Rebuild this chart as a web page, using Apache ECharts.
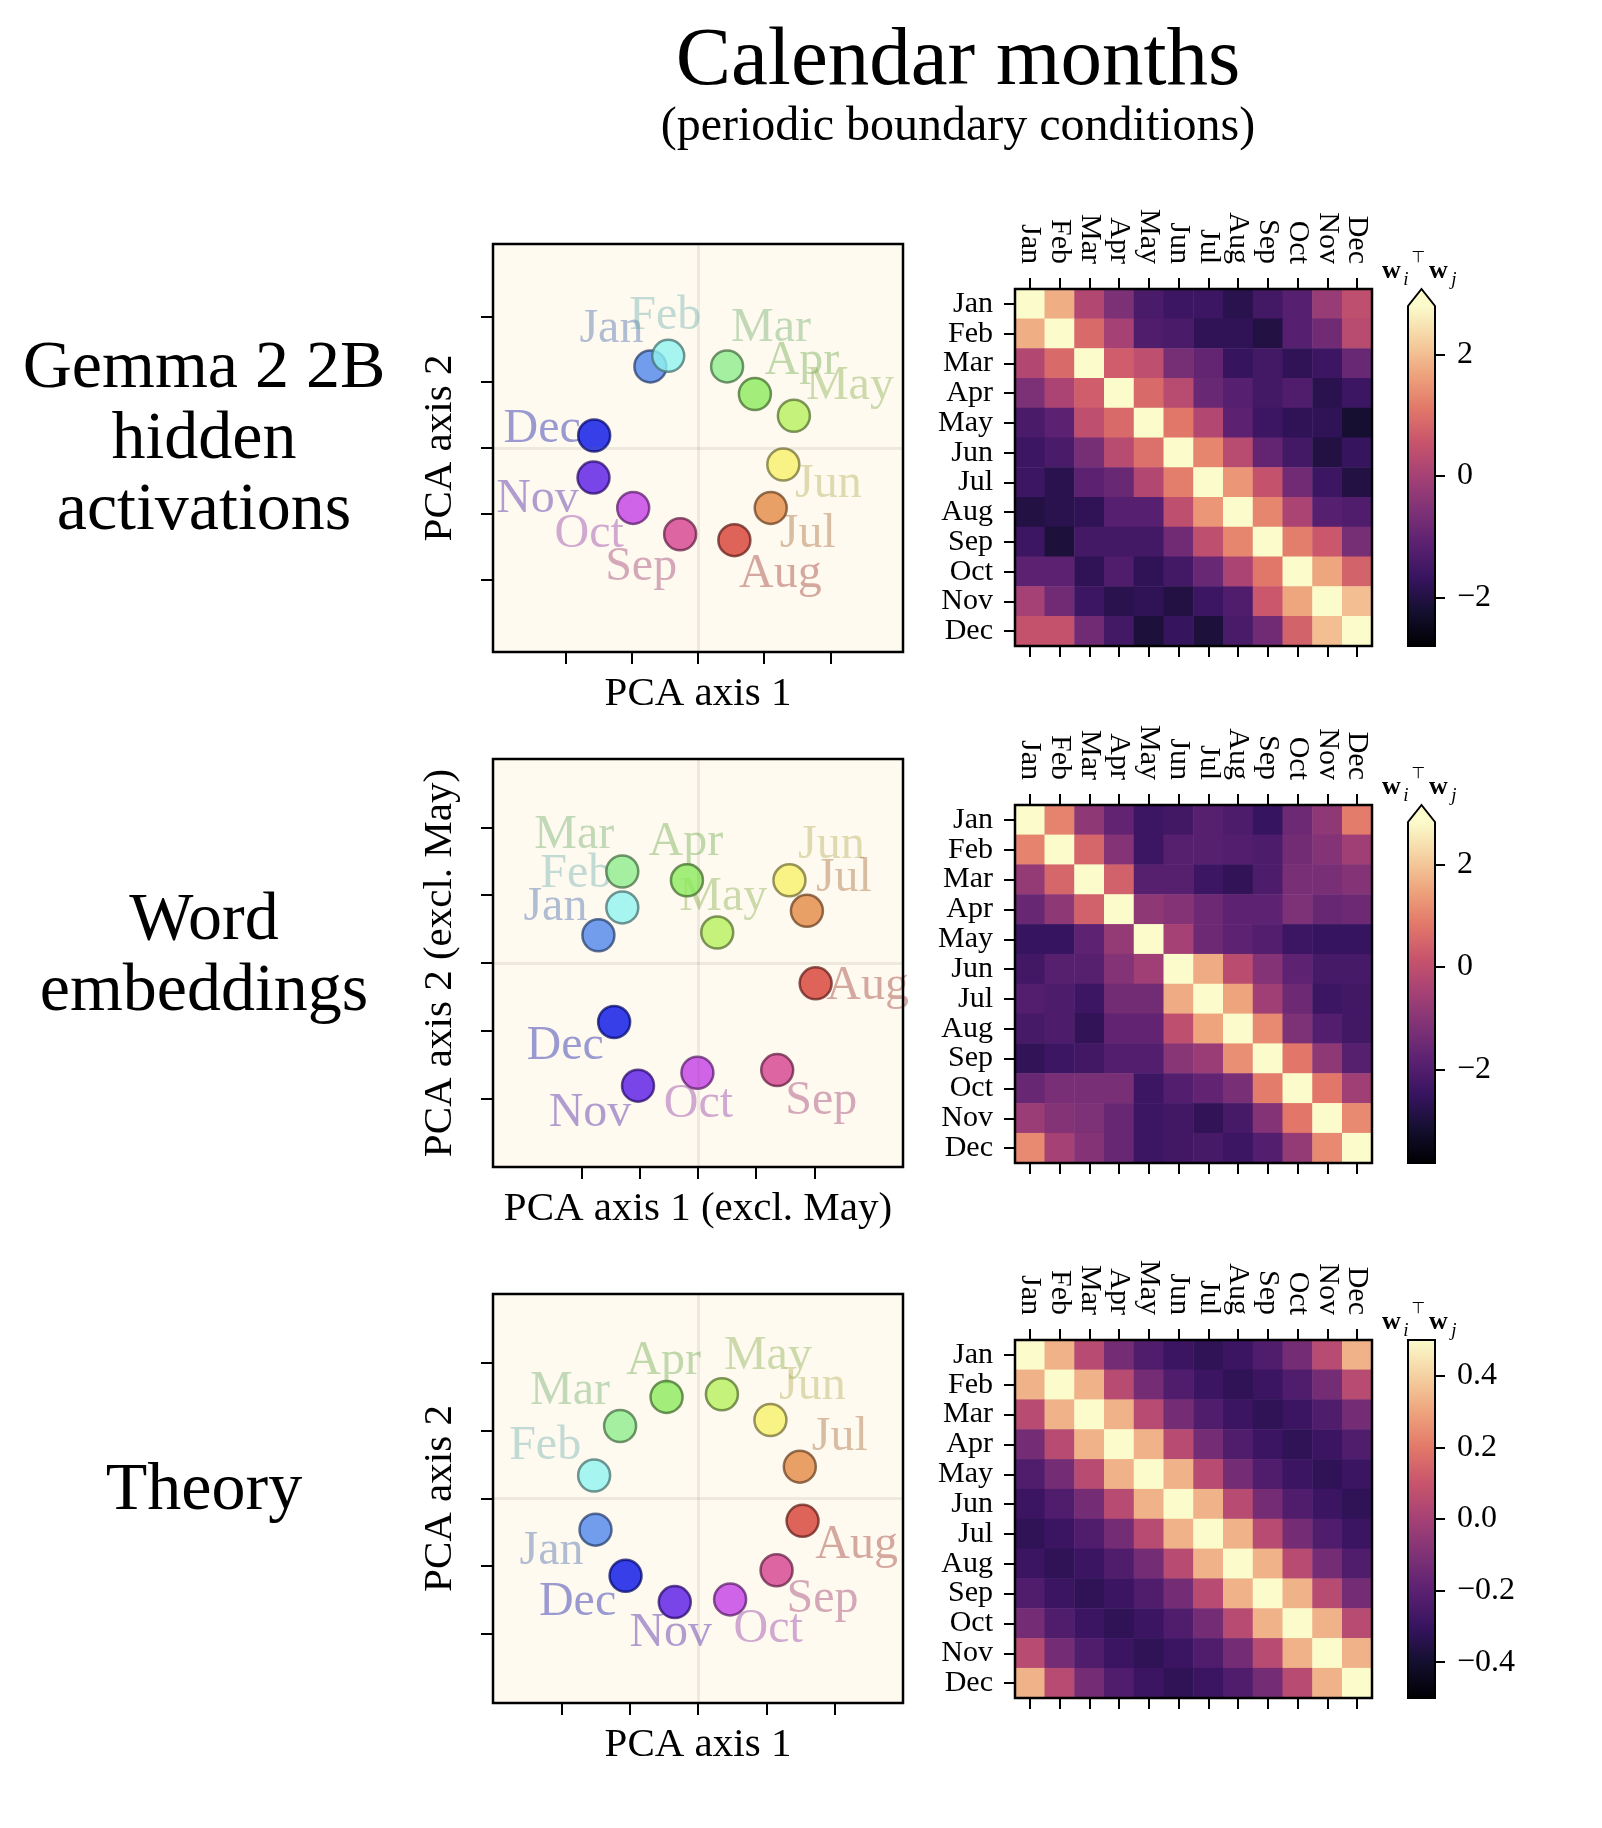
<!DOCTYPE html>
<html>
<head>
<meta charset="utf-8">
<script src="https://cdn.jsdelivr.net/npm/echarts@6/dist/echarts.min.js"></script>
<style>
  html, body { margin: 0; padding: 0; background: #fff; }
  #chart { width: 1602px; height: 1828px; }
</style>
</head>
<body>
<div id="chart"></div>
<script>
// months (shared categories)
const months = ['Jan', 'Feb', 'Mar', 'Apr', 'May', 'Jun', 'Jul', 'Aug', 'Sep', 'Oct', 'Nov', 'Dec']

// PCA coordinates (tick = 1 unit)
const gemmaPC1 = [-0.72, -0.45, 0.44, 0.86, 1.45, 1.29, 1.10, 0.55, -0.27, -0.98, -1.58, -1.57]
const gemmaPC2 = [1.24, 1.40, 1.24, 0.82, 0.49, -0.25, -0.91, -1.40, -1.31, -0.91, -0.45, 0.19]
const wordPC1 = [-1.71, -1.30, -1.30, -0.19, 0.33, 1.57, 1.87, 2.02, 1.36, -0.01, -1.03, -1.44]
const wordPC2 = [0.41, 0.82, 1.35, 1.22, 0.45, 1.22, 0.77, -0.30, -1.58, -1.62, -1.81, -0.87]
const theoryPC1 = [-1.50, -1.52, -1.14, -0.46, 0.35, 1.06, 1.49, 1.53, 1.15, 0.47, -0.34, -1.06]
const theoryPC2 = [-0.46, 0.34, 1.07, 1.50, 1.54, 1.16, 0.47, -0.33, -1.06, -1.49, -1.53, -1.14]
const pcaTicks = [-2, -1, 0, 1, 2]

// w_i^T w_j matrices (rows = Jan..Dec)
const gemmaSim = [
  [3.0, 1.8, 0.2, -0.6, -1.4, -1.6, -1.6, -1.9, -1.5, -1.2, -0.2, 0.4],
  [1.8, 3.0, 0.9, 0.0, -1.3, -1.4, -1.8, -1.8, -2.0, -1.2, -0.8, 0.3],
  [0.2, 0.9, 3.0, 0.7, 0.4, -0.7, -1.0, -1.7, -1.5, -1.8, -1.6, -0.9],
  [-0.6, 0.1, 0.7, 3.0, 0.9, 0.3, -0.9, -1.2, -1.5, -1.3, -1.9, -1.6],
  [-1.4, -1.1, 0.4, 0.9, 3.0, 1.1, 0.2, -1.1, -1.6, -1.8, -1.8, -2.2],
  [-1.6, -1.4, -0.7, 0.3, 1.0, 3.0, 1.3, 0.3, -1.0, -1.5, -2.0, -1.7],
  [-1.6, -1.9, -1.1, -0.9, 0.2, 1.2, 3.0, 1.5, 0.5, -0.8, -1.6, -2.0],
  [-2.0, -1.9, -1.8, -1.2, -1.2, 0.4, 1.5, 3.0, 1.3, 0.1, -1.2, -1.3],
  [-1.6, -2.1, -1.5, -1.5, -1.5, -0.8, 0.4, 1.3, 3.0, 1.2, 0.6, -0.7],
  [-1.1, -1.1, -1.8, -1.3, -1.8, -1.5, -0.9, 0.1, 1.1, 3.0, 1.7, 0.8],
  [0.0, -0.8, -1.6, -1.9, -1.8, -2.0, -1.6, -1.3, 0.6, 1.7, 3.0, 2.0],
  [0.5, 0.5, -0.8, -1.5, -2.1, -1.7, -2.1, -1.4, -0.8, 0.8, 2.0, 3.0]
]
const wordSim = [
  [3.0, 1.0, -0.9, -1.7, -2.4, -2.3, -1.9, -2.1, -2.5, -1.5, -0.9, 0.9],
  [1.0, 3.0, 0.5, -1.1, -2.4, -1.9, -1.9, -2.0, -2.1, -1.4, -1.1, -0.6],
  [-0.8, 0.5, 3.0, 0.4, -1.9, -1.9, -2.4, -2.6, -2.1, -1.3, -1.3, -1.1],
  [-1.6, -0.9, 0.4, 3.0, -0.9, -1.1, -1.5, -1.8, -1.8, -1.2, -1.6, -1.5],
  [-2.5, -2.5, -1.8, -0.8, 3.0, -0.5, -1.5, -1.8, -2.0, -2.4, -2.5, -2.5],
  [-2.3, -1.9, -1.9, -1.1, -0.6, 3.0, 1.6, -0.1, -1.1, -1.8, -2.2, -2.2],
  [-2.0, -2.1, -2.4, -1.4, -1.4, 1.6, 3.0, 1.5, -0.6, -1.5, -2.4, -2.3],
  [-2.2, -2.1, -2.6, -1.7, -1.7, 0.0, 1.5, 3.0, 1.1, -1.2, -2.0, -2.3],
  [-2.6, -2.4, -2.3, -2.0, -2.0, -1.0, -0.7, 1.2, 3.0, 0.8, -0.9, -1.9],
  [-1.6, -1.3, -1.3, -1.3, -2.4, -2.0, -1.7, -1.3, 0.9, 3.0, 0.8, -0.6],
  [-0.7, -1.1, -1.2, -1.6, -2.4, -2.3, -2.6, -2.2, -1.1, 0.8, 3.0, 1.1],
  [1.1, -0.5, -1.1, -1.6, -2.4, -2.3, -2.2, -2.4, -2.0, -0.8, 1.1, 3.0]
]
const theorySim = [
  [0.5, 0.33, 0.05, -0.13, -0.23, -0.29, -0.32, -0.29, -0.23, -0.13, 0.05, 0.33],
  [0.33, 0.5, 0.33, 0.05, -0.13, -0.23, -0.29, -0.32, -0.29, -0.23, -0.13, 0.05],
  [0.05, 0.33, 0.5, 0.33, 0.05, -0.13, -0.23, -0.29, -0.32, -0.29, -0.23, -0.13],
  [-0.13, 0.05, 0.33, 0.5, 0.33, 0.05, -0.13, -0.23, -0.29, -0.32, -0.29, -0.23],
  [-0.23, -0.13, 0.05, 0.33, 0.5, 0.33, 0.05, -0.13, -0.23, -0.29, -0.32, -0.29],
  [-0.29, -0.23, -0.13, 0.05, 0.33, 0.5, 0.33, 0.05, -0.13, -0.23, -0.29, -0.32],
  [-0.32, -0.29, -0.23, -0.13, 0.05, 0.33, 0.5, 0.33, 0.05, -0.13, -0.23, -0.29],
  [-0.29, -0.32, -0.29, -0.23, -0.13, 0.05, 0.33, 0.5, 0.33, 0.05, -0.13, -0.23],
  [-0.23, -0.29, -0.32, -0.29, -0.23, -0.13, 0.05, 0.33, 0.5, 0.33, 0.05, -0.13],
  [-0.13, -0.23, -0.29, -0.32, -0.29, -0.23, -0.13, 0.05, 0.33, 0.5, 0.33, 0.05],
  [0.05, -0.13, -0.23, -0.29, -0.32, -0.29, -0.23, -0.13, 0.05, 0.33, 0.5, 0.33],
  [0.33, 0.05, -0.13, -0.23, -0.29, -0.32, -0.29, -0.23, -0.13, 0.05, 0.33, 0.5]
]

// colour bar ranges and ticks
const gemmaRange = [-2.8, 2.8]
const wordRange = [-3.83, 2.83]
const theoryRange = [-0.5, 0.5]
const gemmaCbTicks = [-2, 0, 2]
const wordCbTicks = [-2, 0, 2]
const theoryCbTicks = [-0.4, -0.2, 0, 0.2, 0.4]

// styles
const FONT = 'Liberation Serif'
const monthColors = ['#4f86ec', '#90f4f0', '#8fee8c', '#8cea5e', '#b5f05e', '#f7f06a',
  '#e38a45', '#d63f35', '#d3408f', '#c33fe6', '#5717e6', '#0410e6']
const magmaStops = ['#000004', '#140e36', '#3b0f70', '#641a80', '#8c2981', '#b73779',
  '#de4968', '#f7705c', '#fe9f6d', '#fecf92', '#fcfdbf']

function rgb(hex) {
  return [1, 3, 5].map(i => parseInt(hex.slice(i, i + 2), 16))
}
function shade(hex, k, a) {
  const c = rgb(hex).map(v => Math.round(v * k))
  return `rgba(${c[0]},${c[1]},${c[2]},${a})`
}
// the printed figure shows a slightly washed-out magma
function mute(hex, s) {
  const c = rgb(hex)
  const g = 0.3 * c[0] + 0.59 * c[1] + 0.11 * c[2]
  const m = c.map(v => Math.round(v * (1 - s) + g * s))
  return `rgb(${m[0]},${m[1]},${m[2]})`
}
const magma = magmaStops.map(c => mute(c, 0.22))

// layout (pixels)
const L = {
  scLeft: 493, scWidth: 410,
  hmLeft: 1015, hmWidth: 357,
  cbLeft: 1408, cbWidth: 27,
  rowLabelX: 204
}
const panels = [
  {
    rowLabel: 'Gemma 2 2B\nhidden\nactivations', rowLabelY: 440,
    pc1: gemmaPC1, pc2: gemmaPC2, sim: gemmaSim, range: gemmaRange, cbTicks: gemmaCbTicks,
    xName: 'PCA axis 1', yName: 'PCA axis 2', xExt: 3.1, yExt: 3.1,
    scTop: 244, scHeight: 408, hmTop: 289, hmHeight: 357, cbTop: 306, tip: 289, extend: true,
    labelOff: [[-39, -37], [-3, -39], [44, -38], [47, -33], [56, -29], [45, 20], [37, 27], [46, 34], [-39, 33], [-44, 27], [-56, 22], [-52, -6]]
  },
  {
    rowLabel: 'Word\nembeddings', rowLabelY: 957,
    pc1: wordPC1, pc2: wordPC2, sim: wordSim, range: wordRange, cbTicks: wordCbTicks,
    xName: 'PCA axis 1 (excl. May)', yName: 'PCA axis 2 (excl. May)', xExt: 3.52, yExt: 3.01,
    scTop: 759, scHeight: 408, hmTop: 805, hmHeight: 358, cbTop: 822, tip: 805, extend: true,
    labelOff: [[-43, -28], [-46, -33], [-48, -36], [-1, -38], [6, -35], [42, -35], [37, -32], [52, 3], [44, 31], [1, 32], [-48, 28], [-49, 24]]
  },
  {
    rowLabel: 'Theory', rowLabelY: 1491,
    pc1: theoryPC1, pc2: theoryPC2, sim: theorySim, range: theoryRange, cbTicks: theoryCbTicks,
    xName: 'PCA axis 1', yName: 'PCA axis 2', xExt: 3.0, yExt: 3.02,
    scTop: 1294, scHeight: 409, hmTop: 1340, hmHeight: 358, cbTop: 1340, tip: 1340, extend: false,
    labelOff: [[-44, 22], [-49, -29], [-50, -35], [-3, -36], [46, -38], [42, -34], [40, -29], [54, 25], [46, 29], [38, 30], [-4, 31], [-48, 27]]
  }
]

const grid = []
const xAxis = []
const yAxis = []
const series = []
const visualMap = []
const graphic = [
  {
    type: 'text', x: 958, y: 62, z: 100, silent: true,
    style: { text: 'Calendar months', font: `83px "${FONT}"`, fill: '#000', align: 'center', verticalAlign: 'middle' }
  },
  {
    type: 'text', x: 958, y: 127, z: 100, silent: true,
    style: { text: '(periodic boundary conditions)', font: `48px "${FONT}"`, fill: '#000', align: 'center', verticalAlign: 'middle' }
  }
]

const tickStyle = { color: '#000', width: 2 }
const fmtCb = (v, dec) => (dec ? v.toFixed(1) : String(Math.round(v))).replace('-', '\u2212')

panels.forEach((p, k) => {
  const gS = 3 * k, gH = 3 * k + 1, gC = 3 * k + 2
  const xS = xAxis.length, yS = yAxis.length

  grid.push({
    left: L.scLeft, top: p.scTop, width: L.scWidth, height: p.scHeight,
    show: true, backgroundColor: '#fffaf0', borderWidth: 0
  })
  grid.push({ left: L.hmLeft, top: p.hmTop, width: L.hmWidth, height: p.hmHeight })
  const cbBottom = p.hmTop + p.hmHeight
  grid.push({ left: L.cbLeft, top: p.cbTop, width: L.cbWidth, height: cbBottom - p.cbTop })

  // scatter axes
  xAxis.push({
    gridIndex: gS, type: 'value', min: -p.xExt, max: p.xExt, position: 'bottom',
    axisLine: { show: false, onZero: false },
    axisTick: { show: true, inside: false, length: 12, customValues: pcaTicks, lineStyle: tickStyle },
    axisLabel: { show: false }, splitLine: { show: false },
    name: p.xName, nameLocation: 'middle', nameGap: 22,
    nameTextStyle: { fontFamily: FONT, fontSize: 41, color: '#000' }
  })
  yAxis.push({
    gridIndex: gS, type: 'value', min: -p.yExt, max: p.yExt, position: 'left',
    axisLine: { show: false, onZero: false },
    axisTick: { show: true, inside: false, length: 12, customValues: pcaTicks, lineStyle: tickStyle },
    axisLabel: { show: false }, splitLine: { show: false },
    name: p.yName, nameLocation: 'middle', nameGap: 32,
    nameTextStyle: { fontFamily: FONT, fontSize: 41, color: '#000' }
  })

  // heatmap axes
  const catTick = { show: true, alignWithLabel: true, length: 11, lineStyle: tickStyle }
  xAxis.push({
    gridIndex: gH, type: 'category', data: months, position: 'top',
    axisLine: { show: false }, axisTick: catTick,
    axisLabel: { rotate: 90, margin: 25, fontFamily: FONT, fontSize: 30, color: '#000', interval: 0 },
    splitLine: { show: false }
  })
  xAxis.push({
    gridIndex: gH, type: 'category', data: months, position: 'bottom',
    axisLine: { show: false }, axisTick: catTick, axisLabel: { show: false },
    splitLine: { show: false }
  })
  yAxis.push({
    gridIndex: gH, type: 'category', data: months, inverse: true,
    axisLine: { show: false }, axisTick: catTick,
    axisLabel: { margin: 22, fontFamily: FONT, fontSize: 30, color: '#000', interval: 0 },
    splitLine: { show: false }
  })

  // colour bar axes
  const dec = p.cbTicks.some(v => !Number.isInteger(v))
  xAxis.push({ gridIndex: gC, type: 'value', min: 0, max: 1, show: false })
  yAxis.push({
    gridIndex: gC, type: 'value', position: 'right',
    min: p.range[0], max: p.range[1],
    axisLine: { show: false, onZero: false },
    axisTick: { show: true, inside: false, length: 10, customValues: p.cbTicks, lineStyle: tickStyle },
    axisLabel: {
      show: true, customValues: p.cbTicks, margin: 22, fontFamily: FONT, fontSize: 32, color: '#000',
      formatter: v => fmtCb(v, dec)
    },
    splitLine: { show: false }
  })

  // text labels (drawn under the markers)
  series.push({
    type: 'scatter', xAxisIndex: xS, yAxisIndex: yS, z: 1, silent: true,
    symbolSize: 1, itemStyle: { color: 'transparent' },
    data: months.map((m, i) => ({
      value: [p.pc1[i], p.pc2[i]],
      label: {
        show: true, formatter: m, position: 'inside', offset: p.labelOff[i],
        fontFamily: FONT, fontSize: 48, color: shade(monthColors[i], 0.7, 0.5),
        align: 'center', verticalAlign: 'middle'
      }
    })),
    markLine: {
      silent: true, symbol: ['none', 'none'], label: { show: false },
      lineStyle: { color: 'rgba(120,110,90,0.12)', width: 3, type: 'solid' },
      data: [{ xAxis: 0 }, { yAxis: 0 }]
    }
  })
  // markers
  series.push({
    type: 'scatter', xAxisIndex: xS, yAxisIndex: yS, z: 3, silent: true,
    symbolSize: 32,
    data: months.map((m, i) => ({
      value: [p.pc1[i], p.pc2[i]],
      itemStyle: { color: monthColors[i], borderColor: shade(monthColors[i], 0.45, 0.9), borderWidth: 2.5 }
    }))
  })
  // heatmap
  const hmData = []
  p.sim.forEach((row, i) => row.forEach((v, j) => hmData.push([j, i, v])))
  visualMap.push({
    type: 'continuous', show: false, seriesIndex: series.length,
    min: p.range[0], max: p.range[1], dimension: 2,
    inRange: { color: magma }
  })
  series.push({
    type: 'heatmap', xAxisIndex: xS + 1, yAxisIndex: yS + 1, silent: true,
    data: hmData, itemStyle: { borderWidth: 0 }
  })

  // frames
  graphic.push({
    type: 'rect', z: 50, silent: true,
    shape: { x: L.scLeft, y: p.scTop, width: L.scWidth, height: p.scHeight },
    style: { fill: 'none', stroke: '#000', lineWidth: 2.5 }
  })
  graphic.push({
    type: 'rect', z: 50, silent: true,
    shape: { x: L.hmLeft, y: p.hmTop, width: L.hmWidth, height: p.hmHeight },
    style: { fill: 'none', stroke: '#000', lineWidth: 2.5 }
  })

  // colour bar body
  const x0 = L.cbLeft, x1 = L.cbLeft + L.cbWidth, xc = (x0 + x1) / 2
  graphic.push({
    type: 'rect', z: 10, silent: true,
    shape: { x: x0, y: p.cbTop, width: L.cbWidth, height: cbBottom - p.cbTop },
    style: {
      fill: new echarts.graphic.LinearGradient(0, 1, 0, 0,
        magma.map((c, i) => ({ offset: i / (magma.length - 1), color: c })))
    }
  })
  const outline = p.extend
    ? [[x0, cbBottom], [x0, p.cbTop], [xc, p.tip], [x1, p.cbTop], [x1, cbBottom]]
    : [[x0, cbBottom], [x0, p.cbTop], [x1, p.cbTop], [x1, cbBottom]]
  if (p.extend) {
    graphic.push({
      type: 'polygon', z: 10, silent: true,
      shape: { points: [[x0, p.cbTop + 0.5], [xc, p.tip], [x1, p.cbTop + 0.5]] },
      style: { fill: magma[magma.length - 1] }
    })
  }
  graphic.push({
    type: 'polygon', z: 11, silent: true,
    shape: { points: outline },
    style: { fill: 'none', stroke: '#000', lineWidth: 2 }
  })

  // colour bar label  w_i^T w_j
  const ym = p.tip - 18
  const mathParts = [
    { t: 'w', dx: -30, dy: 0, f: `bold 26px "${FONT}"` },
    { t: 'i', dx: -15.5, dy: 9, f: `italic 19px "${FONT}"` },
    { t: '\u22a4', dx: -3, dy: -13, f: `16px "DejaVu Sans"` },
    { t: 'w', dx: 17, dy: 0, f: `bold 26px "${FONT}"` },
    { t: 'j', dx: 32.5, dy: 9, f: `italic 19px "${FONT}"` }
  ]
  mathParts.forEach(m => graphic.push({
    type: 'text', z: 100, silent: true, x: xc + m.dx, y: ym + m.dy,
    style: { text: m.t, font: m.f, fill: '#000', align: 'center', verticalAlign: 'middle' }
  }))

  // row label
  graphic.push({
    type: 'text', z: 100, silent: true, x: L.rowLabelX, y: p.rowLabelY,
    style: {
      text: p.rowLabel, font: `68px "${FONT}"`, lineHeight: 71, fill: '#000',
      align: 'center', verticalAlign: 'middle'
    }
  })
})

const myChart = echarts.init(document.getElementById('chart'), null, { renderer: 'canvas' })
myChart.setOption({
  animation: false,
  backgroundColor: '#fff',
  textStyle: { fontFamily: FONT },
  grid, xAxis, yAxis, visualMap, series, graphic
})
</script>
</body>
</html>
